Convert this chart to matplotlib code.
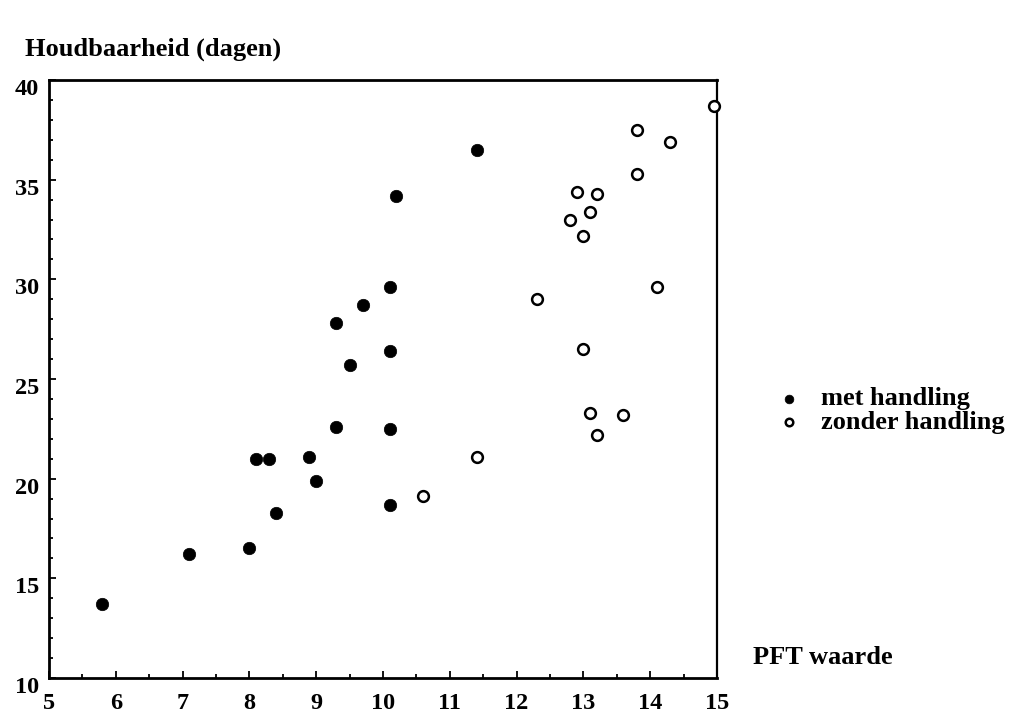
import numpy as np
import matplotlib.pyplot as plt
import matplotlib.transforms as mtransforms
from matplotlib.ticker import MultipleLocator

plt.rcParams['font.family'] = ['Liberation Serif', 'DejaVu Serif']
plt.rcParams['font.weight'] = 'bold'

# PFT waarde en houdbaarheid, met handling
pft_met = [5.8, 7.1, 8.0, 8.4, 8.1, 8.3, 8.9, 9.0, 9.3, 10.1, 10.1, 9.5, 10.1, 9.3, 9.7, 10.1, 10.2, 11.4]
dagen_met = [13.7, 16.2, 16.5, 18.3, 21.0, 21.0, 21.1, 19.9, 22.6, 22.5, 18.7, 25.7, 26.4, 27.8, 28.7, 29.6, 34.2, 36.5]

# zonder handling
pft_zonder = [10.6, 11.4, 13.2, 13.1, 13.6, 13.0, 12.3, 14.1, 13.0, 12.8, 13.1, 12.9, 13.2, 13.8, 14.3, 13.8, 14.95]
dagen_zonder = [19.15, 21.1, 22.2, 23.3, 23.2, 26.5, 29.0, 29.6, 32.2, 33.0, 33.4, 34.4, 34.3, 35.3, 36.9, 37.5, 38.7]

x_ticks = [5, 6, 7, 8, 9, 10, 11, 12, 13, 14, 15]
y_ticks = [10, 15, 20, 25, 30, 35, 40]

fig = plt.figure(figsize=(10.16, 7.19), dpi=100)
ax = fig.add_axes([0.0482, 0.057, 0.6575, 0.8317])

ax.scatter(pft_met, dagen_met, s=80, color='black', edgecolors='black',
           linewidths=0.5, label='met handling', clip_on=False, zorder=3)
ax.scatter(pft_zonder, dagen_zonder, s=60, facecolors='white', edgecolors='black',
           linewidths=1.8, label='zonder handling', clip_on=False, zorder=3)

ax.set_xlim(5, 15)
ax.set_ylim(10, 40)
ax.set_xticks(x_ticks)
ax.set_yticks(y_ticks)
ax.xaxis.set_minor_locator(MultipleLocator(0.5))
ax.yaxis.set_minor_locator(MultipleLocator(1))
ax.tick_params(which='both', direction='in', width=1.3, top=False, right=False)
ax.tick_params(which='major', length=5)
ax.tick_params(which='minor', length=3)
ax.tick_params(axis='x', which='major', pad=11, labelsize=17.5)
ax.tick_params(axis='y', which='major', pad=7, labelsize=17.5)

for side in ['left', 'bottom', 'top']:
    ax.spines[side].set_linewidth(2)
ax.spines['right'].set_linewidth(1.6)

# y labels sit a little below their ticks
shift = mtransforms.ScaledTranslation(0, -5 / 72, fig.dpi_scale_trans)
for lab in ax.get_yticklabels():
    lab.set_transform(lab.get_transform() + shift)

fig.text(25 / 1016, 1 - 49 / 719, 'Houdbaarheid (dagen)', fontsize=19,
         fontweight='bold', ha='left', va='center')
fig.text(753 / 1016, 1 - 658 / 719, 'PFT waarde', fontsize=19,
         fontweight='bold', ha='left', va='center')

leg = ax.legend(loc='upper left', bbox_to_anchor=(777 / 1016, 1 - 387 / 719),
                bbox_transform=fig.transFigure, frameon=False, fontsize=19,
                handlelength=0.9, handletextpad=0.76, labelspacing=0,
                borderpad=0, borderaxespad=0, markerscale=0.7)

fig.savefig('out.png', dpi=100)
